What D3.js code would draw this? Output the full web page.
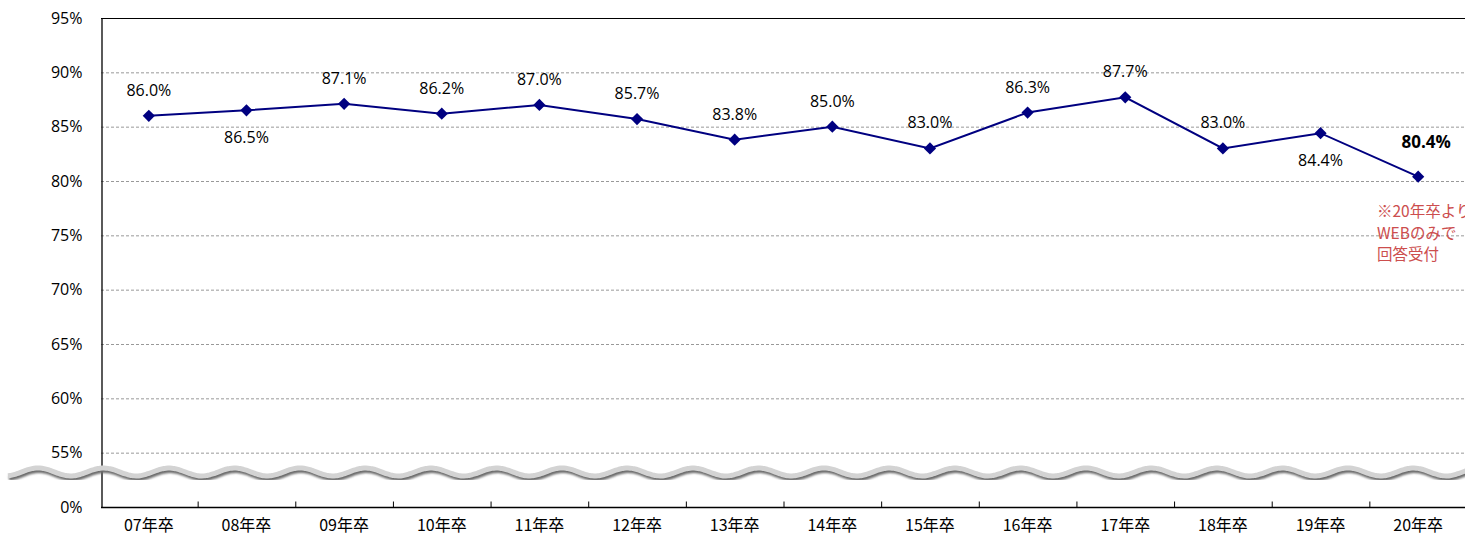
<!DOCTYPE html>
<html>
<head>
<meta charset="utf-8">
<script src="https://cdn.jsdelivr.net/npm/d3@7"></script>
<style>
  body { margin: 0; background: #fff; }
  svg { display: block; font-family: "Open Sans", "Noto Sans CJK JP", sans-serif; }
</style>
</head>
<body>
<div id="chart"></div>
<script>
const categories = ["07年卒", "08年卒", "09年卒", "10年卒", "11年卒", "12年卒", "13年卒",
  "14年卒", "15年卒", "16年卒", "17年卒", "18年卒", "19年卒", "20年卒"];
const values = [86.0, 86.5, 87.1, 86.2, 87.0, 85.7, 83.8, 85.0, 83.0, 86.3, 87.7, 83.0, 84.4, 80.4];
// where each data label sits
const labelSide = ["above", "below", "above", "above", "above", "above", "above",
  "above", "above", "above", "above", "above", "below", "above"];
const yTicks = [50, 55, 60, 65, 70, 75, 80, 85, 90, 95];
const yTickLabels = ["0%", "55%", "60%", "65%", "70%", "75%", "80%", "85%", "90%", "95%"];
const noteLines = ["※20年卒より", "WEBのみで", "回答受付"];

const width = 1465, height = 538;
const plotLeft = 101, plotTop = 18, plotBottom = 507;

const svg = d3.select("#chart").append("svg")
  .attr("width", width)
  .attr("height", height);

const x = d3.scaleBand().domain(categories).range([100, 1467]);
const y = d3.scaleLinear().domain([50, 95]).range([plotBottom, plotTop]);

// gridlines
svg.append("g")
  .selectAll("line")
  .data(yTicks.filter(d => d > 50 && d < 95))
  .join("line")
  .attr("x1", plotLeft).attr("x2", width)
  .attr("y1", d => y(d) + 0.5).attr("y2", d => y(d) + 0.5)
  .attr("stroke", "#999")
  .attr("stroke-width", 1)
  .attr("stroke-dasharray", "3,2");

// top border
svg.append("line")
  .attr("x1", plotLeft).attr("x2", width)
  .attr("y1", plotTop + 0.5).attr("y2", plotTop + 0.5)
  .attr("stroke", "#000");

// y axis
const yAxis = svg.append("g")
  .attr("transform", `translate(${plotLeft + 0.5},0)`)
  .call(d3.axisLeft(y).tickValues(yTicks).tickSize(0).tickPadding(19)
    .tickFormat((d, i) => yTickLabels[i]));
yAxis.select(".domain").attr("stroke", "#000").attr("stroke-width", 1.3);
yAxis.selectAll("text").attr("font-size", 16).attr("fill", "#000")
  .attr("font-family", "'Open Sans', sans-serif");

// x axis with inner ticks at band boundaries
const xAxis = svg.append("g")
  .attr("transform", `translate(0,${plotBottom + 0.5})`)
  .call(d3.axisBottom(x).tickSize(0).tickPadding(12));
xAxis.select(".domain").attr("stroke", "#000").attr("stroke-width", 1.5)
  .attr("d", `M${plotLeft},0H${width}`);
xAxis.selectAll("text").attr("font-size", 16).attr("fill", "#000")
  .attr("font-family", "'Noto Sans CJK JP', sans-serif");
xAxis.append("g")
  .selectAll("line")
  .data(categories.slice(1))
  .join("line")
  .attr("x1", d => x(d) + 0.5).attr("x2", d => x(d) + 0.5)
  .attr("y1", 0).attr("y2", -6)
  .attr("stroke", "#000");

// wavy break mark
const defs = svg.append("defs");
defs.append("filter").attr("id", "blur")
  .append("feGaussianBlur").attr("stdDeviation", 1.3);
const wavePts = d3.range(8, width + 2, 2).map(px => [px, 472 - 4 * Math.cos((px - 38) / 65.5 * 2 * Math.PI)]);
const waveLine = d3.line().curve(d3.curveBasis);
svg.append("path")
  .attr("d", waveLine(wavePts))
  .attr("transform", "translate(1,2.5)")
  .attr("fill", "none")
  .attr("stroke", "#6a6a6a")
  .attr("stroke-width", 5)
  .attr("filter", "url(#blur)");
svg.append("path")
  .attr("d", waveLine(wavePts))
  .attr("fill", "none")
  .attr("stroke", "#d3d3d3")
  .attr("stroke-width", 5);

// line series
const cx = d => x(d) + x.bandwidth() / 2;
svg.append("path")
  .datum(values)
  .attr("fill", "none")
  .attr("stroke", "#000080")
  .attr("stroke-width", 2)
  .attr("d", d3.line().x((d, i) => cx(categories[i])).y(d => y(d)));

svg.append("g")
  .selectAll("path")
  .data(values)
  .join("path")
  .attr("d", d3.symbol(d3.symbolDiamond2, 95))
  .attr("transform", (d, i) => `translate(${cx(categories[i])},${y(d)})`)
  .attr("fill", "#000080");

// data labels
const last = values.length - 1;
svg.append("g")
  .selectAll("text")
  .data(values)
  .join("text")
  .attr("x", (d, i) => cx(categories[i]) + (i === last ? 8 : 0))
  .attr("y", (d, i) => y(d) + (labelSide[i] === "above" ? (i === last ? -29 : -20) : 33))
  .attr("text-anchor", "middle")
  .attr("font-size", (d, i) => i === last ? 17 : 16)
  .attr("font-weight", (d, i) => i === last ? "bold" : "normal")
  .attr("fill", "#000")
  .text(d => d.toFixed(1) + "%");

// note
svg.append("g")
  .selectAll("text")
  .data(noteLines)
  .join("text")
  .attr("x", 1377)
  .attr("y", (d, i) => 217 + i * 21.5)
  .attr("font-size", 15.5)
  .attr("font-family", "'Noto Sans CJK JP', sans-serif")
  .attr("fill", "#cc4e4e")
  .text(d => d);
</script>
</body>
</html>
